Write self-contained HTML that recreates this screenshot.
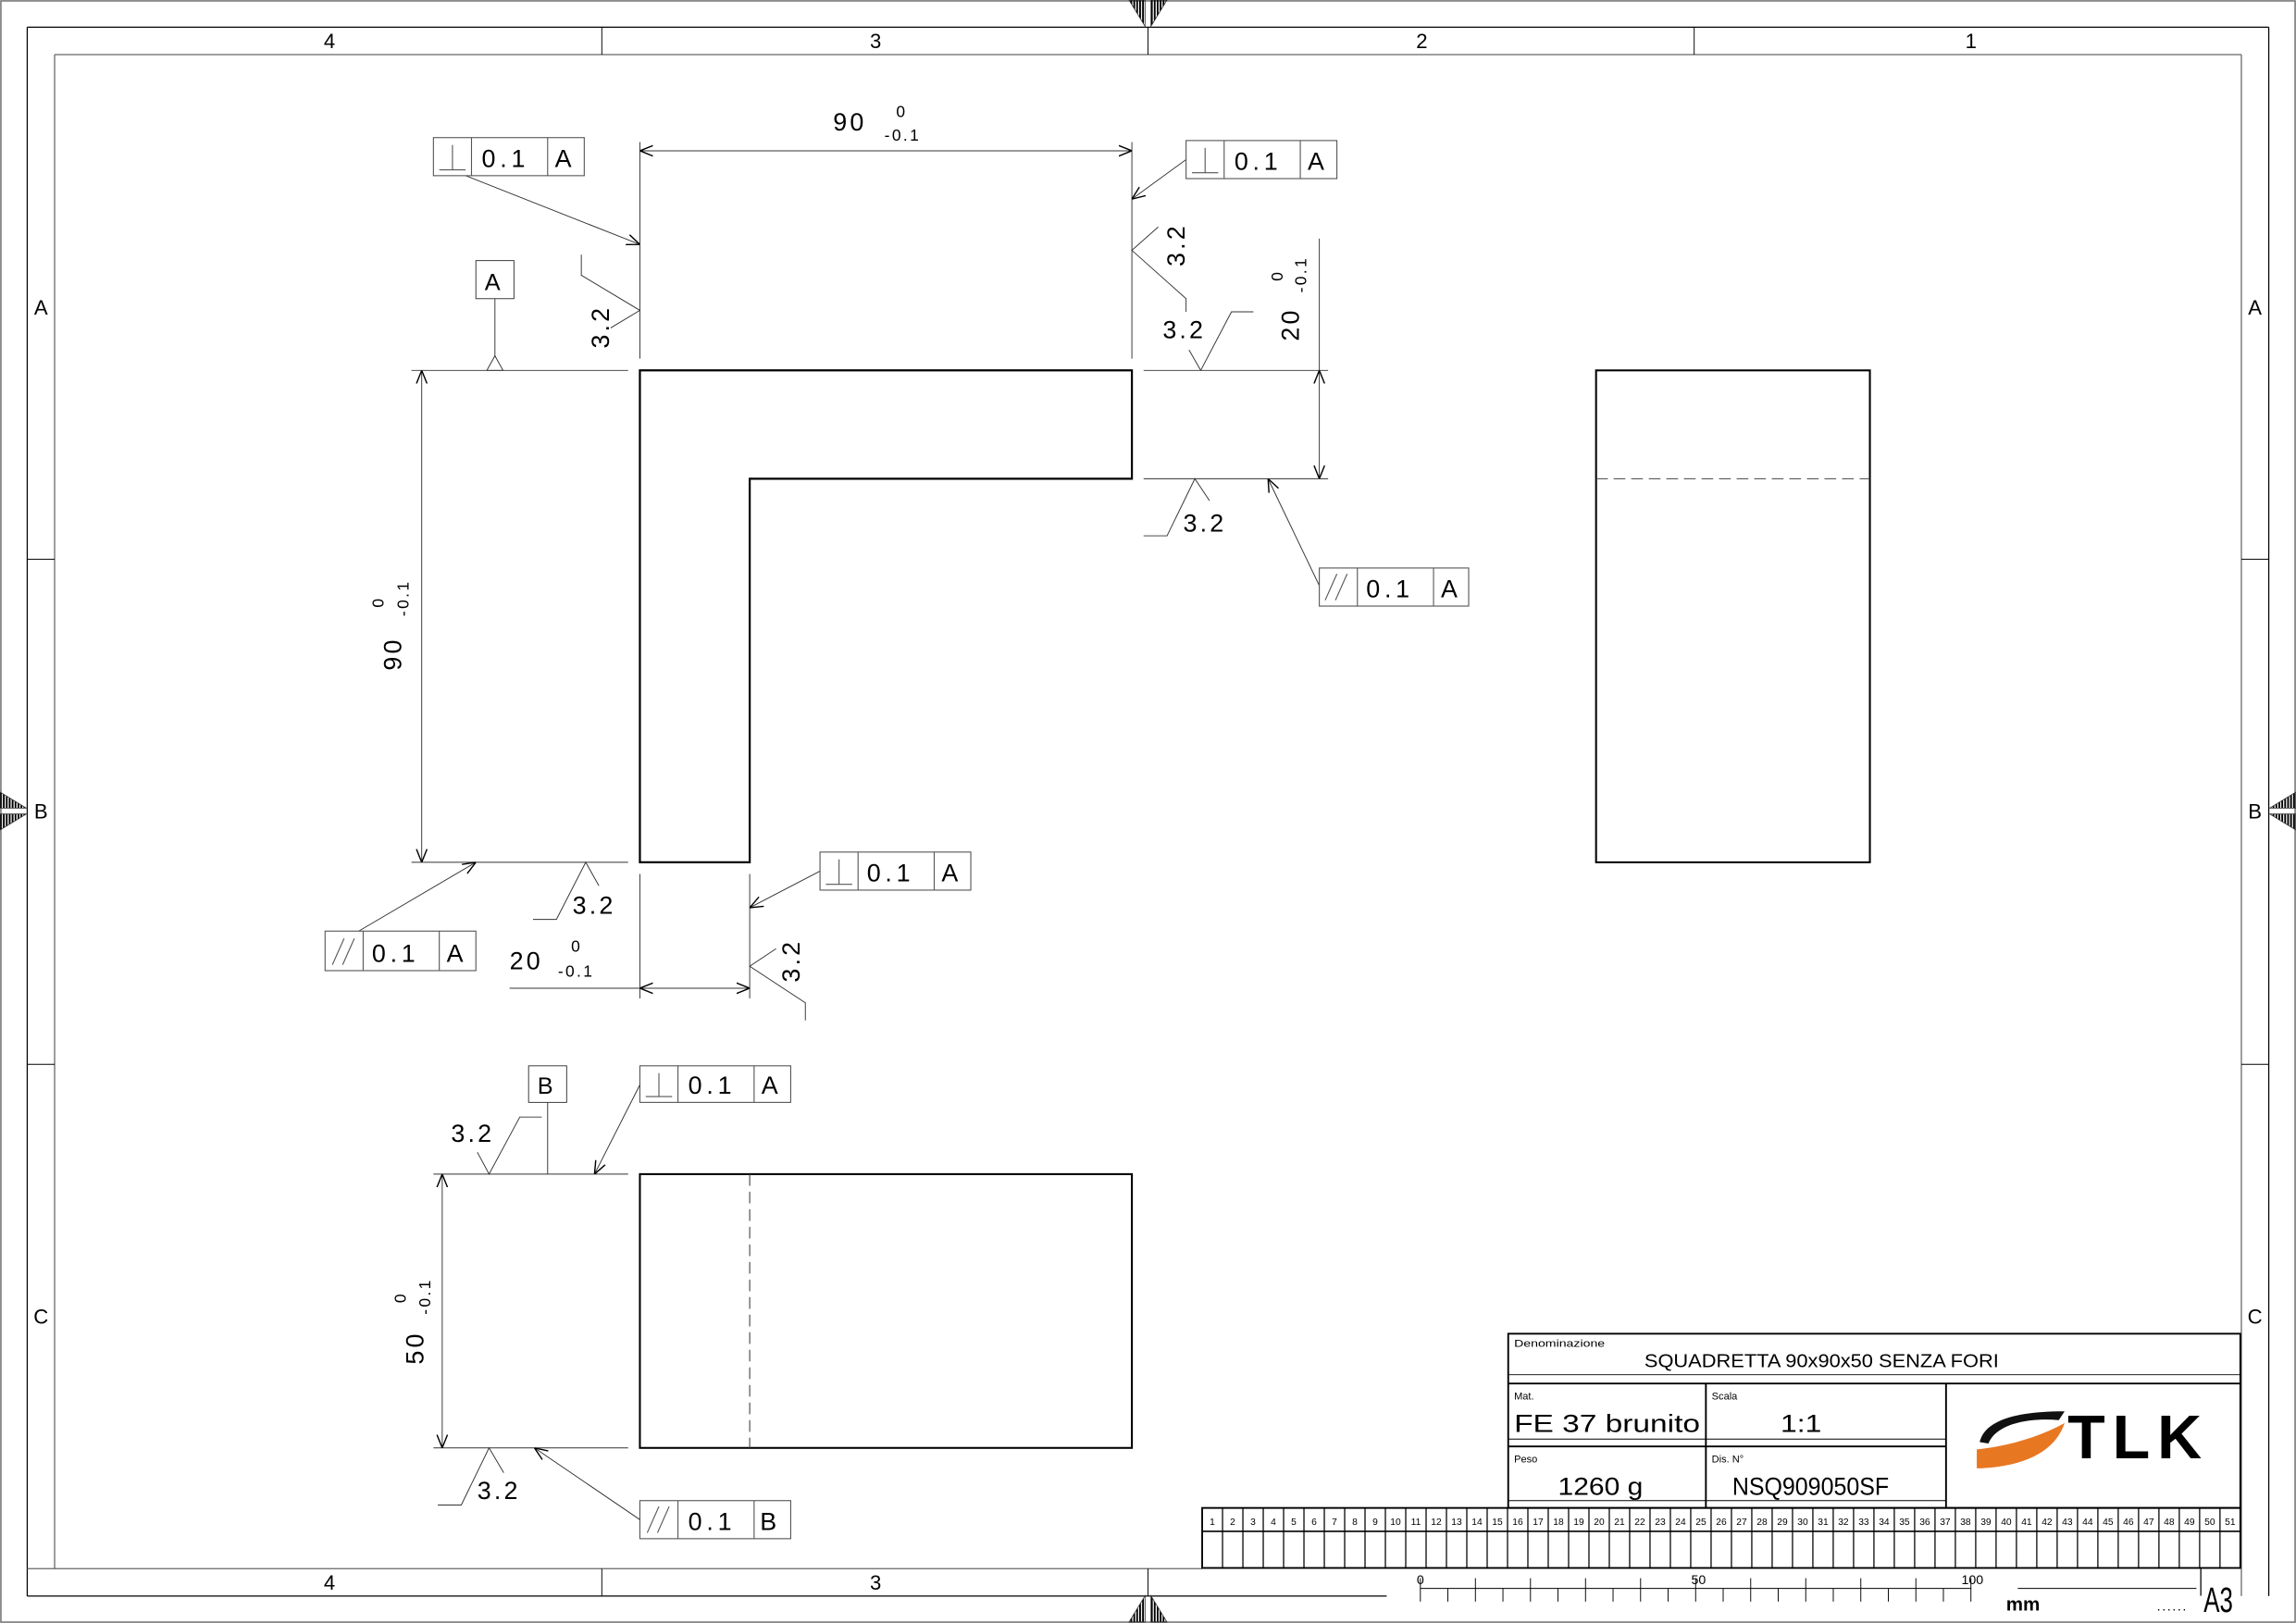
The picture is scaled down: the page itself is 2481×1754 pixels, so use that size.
<!DOCTYPE html>
<html><head><meta charset="utf-8">
<style>
html,body{margin:0;padding:0;background:#fff;}
svg{display:block;}
text{font-family:"Liberation Sans",sans-serif;fill:#000;}
.n{font-family:"Liberation Sans Narrow","Liberation Sans",sans-serif;}
</style></head><body>
<svg width="2481" height="1754" viewBox="0 0 1568 1108.6" preserveAspectRatio="none" xmlns="http://www.w3.org/2000/svg">
<defs>
<marker id="ar" viewBox="0 0 10 10" refX="10" refY="5" markerWidth="9" markerHeight="9" markerUnits="userSpaceOnUse" orient="auto-start-reverse">
<path d="M0,1 L10,5 L0,9" fill="none" stroke="#000" stroke-width="1"/>
</marker>
<pattern id="hat" width="2" height="4" patternUnits="userSpaceOnUse"><rect width="1.2" height="4" fill="#000"/></pattern>
</defs>
<rect x="0" y="0" width="1568" height="1108.6" fill="#fff"/>
<rect x="0.6" y="0.6" width="1566.8" height="1107.4" fill="none" stroke="#777" stroke-width="1"/>
<g stroke="#000" stroke-width="0.8" fill="none">
<line x1="18.6" y1="18.6" x2="1549.4" y2="18.6"/>
<line x1="18.6" y1="18.6" x2="18.6" y2="1090.2"/>
<line x1="1549.4" y1="18.6" x2="1549.4" y2="1090.2"/>
<line x1="18.6" y1="1090.2" x2="947" y2="1090.2"/>
</g>
<g stroke="#666" stroke-width="0.8" fill="none">
<line x1="37.3" y1="37.3" x2="1530.7" y2="37.3"/>
<line x1="37.3" y1="37.3" x2="37.3" y2="1071.5"/>
<line x1="1530.7" y1="37.3" x2="1530.7" y2="1090.2"/>
<line x1="18.6" y1="1071.5" x2="821" y2="1071.5"/>
</g>
<g stroke="#000" stroke-width="0.6">
<line x1="411" y1="18.6" x2="411" y2="37.3"/><line x1="784" y1="18.6" x2="784" y2="37.3"/><line x1="1157" y1="18.6" x2="1157" y2="37.3"/>
<line x1="411" y1="1071.5" x2="411" y2="1090.2"/><line x1="784" y1="1071.5" x2="784" y2="1090.2"/>
<line x1="18.6" y1="382" x2="37.3" y2="382"/><line x1="18.6" y1="727" x2="37.3" y2="727"/>
<line x1="1530.7" y1="382" x2="1549.4" y2="382"/><line x1="1530.7" y1="727" x2="1549.4" y2="727"/>
</g>
<g font-size="14" text-anchor="middle">
<text x="225" y="33">4</text><text x="598" y="33">3</text><text x="971" y="33">2</text><text x="1346" y="33">1</text>
<text x="225" y="1086">4</text><text x="598" y="1086">3</text>
<text x="28" y="215">A</text><text x="28" y="559">B</text><text x="28" y="904">C</text>
<text x="1540" y="215">A</text><text x="1540" y="559">B</text><text x="1540" y="904">C</text>
</g>
<g fill="url(#hat)" stroke="#333" stroke-width="0.5">
<polygon points="771,0 782,0 782,18"/><polygon points="786,0 797,0 786,18"/>
<polygon points="771,1108 782,1108 782,1090"/><polygon points="786,1108 797,1108 786,1090"/>
<polygon points="0,541 0,552 18,552"/><polygon points="0,567 0,556 18,556"/>
<polygon points="1568,541 1568,552 1550,552"/><polygon points="1568,567 1568,556 1550,556"/>
</g>

<polygon points="437,253 773,253 773,327 512,327 512,589 437,589" fill="none" stroke="#000" stroke-width="1.4"/>
<g stroke="#333" stroke-width="0.6" fill="none">
<line x1="437" y1="97" x2="437" y2="245"/><line x1="773" y1="97" x2="773" y2="245"/>
<line x1="437" y1="103" x2="773" y2="103" marker-start="url(#ar)" marker-end="url(#ar)"/>
<line x1="281" y1="253" x2="429" y2="253"/><line x1="281" y1="589" x2="429" y2="589"/>
<line x1="288" y1="253" x2="288" y2="589" marker-start="url(#ar)" marker-end="url(#ar)"/>
<line x1="781" y1="253" x2="907" y2="253"/><line x1="781" y1="327" x2="907" y2="327"/>
<line x1="901" y1="163" x2="901" y2="253"/>
<line x1="901" y1="253" x2="901" y2="327" marker-start="url(#ar)" marker-end="url(#ar)"/>
<line x1="437" y1="597" x2="437" y2="682"/><line x1="512" y1="597" x2="512" y2="682"/>
<line x1="348" y1="675" x2="437" y2="675"/>
<line x1="437" y1="675" x2="512" y2="675" marker-start="url(#ar)" marker-end="url(#ar)"/>
<rect x="325" y="178" width="26" height="26"/>
<line x1="338" y1="204" x2="338" y2="244"/>
<polygon points="332.5,253 338,243 343.5,253"/>
<line x1="318" y1="120" x2="437" y2="167" marker-end="url(#ar)"/>
<line x1="810" y1="109" x2="773" y2="136" marker-end="url(#ar)"/>
<line x1="901" y1="400" x2="866" y2="327" marker-end="url(#ar)"/>
<line x1="245" y1="636" x2="325" y2="589" marker-end="url(#ar)"/>
<line x1="560" y1="595" x2="512" y2="620" marker-end="url(#ar)"/>
<polyline points="397,174 397,188 437,212 417,224"/>
<polyline points="791,155 773,171 810,204 810,213"/>
<polyline points="812,239 820,253 841,213 856,213"/>
<polyline points="826,342 816,327 797,366 781,366"/>
<polyline points="409,605 400,589 380,628 364,628"/>
<polyline points="530,648 512,660 550,685 550,697"/>
</g>
<g font-size="17" letter-spacing="2">
<text x="569" y="89">90</text>
<text x="612" y="80" font-size="11">0</text>
<text x="604" y="96" font-size="11" letter-spacing="1.5">-0.1</text>
<text transform="translate(274,458) rotate(-90)">90</text>
<text transform="translate(262,415) rotate(-90)" font-size="11">0</text>
<text transform="translate(279,421) rotate(-90)" font-size="11" letter-spacing="1.5">-0.1</text>
<text transform="translate(887,233) rotate(-90)">20</text>
<text transform="translate(876,192) rotate(-90)" font-size="11">0</text>
<text transform="translate(892,200) rotate(-90)" font-size="11" letter-spacing="1.5">-0.1</text>
<text x="348" y="662">20</text>
<text x="390" y="650" font-size="11">0</text>
<text x="381" y="667" font-size="11" letter-spacing="1.5">-0.1</text>
<text transform="translate(416,238) rotate(-90)">3.2</text>
<text transform="translate(809,182) rotate(-90)">3.2</text>
<text x="794" y="231">3.2</text>
<text x="808" y="363">3.2</text>
<text x="391" y="624">3.2</text>
<text transform="translate(546,671) rotate(-90)">3.2</text>
<text x="331" y="198" font-size="16" letter-spacing="0">A</text>
</g>

<g stroke="#555" stroke-width="0.7" fill="none">
<rect x="296" y="94" width="103" height="26"/><line x1="322" y1="94" x2="322" y2="120"/><line x1="374" y1="94" x2="374" y2="120"/>
<line x1="309" y1="99" x2="309" y2="116"/><line x1="300" y1="116" x2="318" y2="116"/>
<rect x="810" y="96" width="103" height="26"/><line x1="836" y1="96" x2="836" y2="122"/><line x1="888" y1="96" x2="888" y2="122"/>
<line x1="823" y1="101" x2="823" y2="118"/><line x1="814" y1="118" x2="832" y2="118"/>
<rect x="901" y="388" width="102" height="26"/><line x1="927" y1="388" x2="927" y2="414"/><line x1="979" y1="388" x2="979" y2="414"/>
<line x1="905" y1="410" x2="913" y2="392"/><line x1="912" y1="410" x2="920" y2="392"/>
<rect x="222" y="636" width="103" height="27"/><line x1="248" y1="636" x2="248" y2="663"/><line x1="300" y1="636" x2="300" y2="663"/>
<line x1="227" y1="659" x2="235" y2="641"/><line x1="234" y1="659" x2="242" y2="641"/>
<rect x="560" y="582" width="103" height="26"/><line x1="586" y1="582" x2="586" y2="608"/><line x1="638" y1="582" x2="638" y2="608"/>
<line x1="573" y1="587" x2="573" y2="604"/><line x1="564" y1="604" x2="582" y2="604"/>
<rect x="437" y="728" width="103" height="25"/><line x1="463" y1="728" x2="463" y2="753"/><line x1="515" y1="728" x2="515" y2="753"/>
<line x1="450" y1="733" x2="450" y2="749"/><line x1="441" y1="749" x2="459" y2="749"/>
<rect x="437" y="1025" width="103" height="26"/><line x1="463" y1="1025" x2="463" y2="1051"/><line x1="515" y1="1025" x2="515" y2="1051"/>
<line x1="442" y1="1047" x2="450" y2="1029"/><line x1="449" y1="1047" x2="457" y2="1029"/>
</g>
<g font-size="17" letter-spacing="3">
<text x="329" y="114">0.1</text><text x="379" y="114" letter-spacing="0">A</text>
<text x="843" y="116">0.1</text><text x="893" y="116" letter-spacing="0">A</text>
<text x="933" y="408">0.1</text><text x="984" y="408" letter-spacing="0">A</text>
<text x="254" y="657">0.1</text><text x="305" y="657" letter-spacing="0">A</text>
<text x="592" y="602">0.1</text><text x="643" y="602" letter-spacing="0">A</text>
<text x="470" y="747">0.1</text><text x="520" y="747" letter-spacing="0">A</text>
<text x="470" y="1045">0.1</text><text x="519" y="1045" letter-spacing="0">B</text>
</g>

<rect x="1090" y="253" width="187" height="336" fill="none" stroke="#000" stroke-width="1.3"/>
<line x1="1090" y1="327" x2="1277" y2="327" stroke="#444" stroke-width="0.7" stroke-dasharray="8,4"/>

<rect x="437" y="802" width="336" height="187" fill="none" stroke="#000" stroke-width="1.3"/>
<line x1="512" y1="802" x2="512" y2="989" stroke="#444" stroke-width="0.7" stroke-dasharray="8,4"/>
<g stroke="#333" stroke-width="0.6" fill="none">
<line x1="296" y1="802" x2="429" y2="802"/><line x1="296" y1="989" x2="429" y2="989"/>
<line x1="302" y1="802" x2="302" y2="989" marker-start="url(#ar)" marker-end="url(#ar)"/>
<rect x="361" y="728" width="26" height="25"/>
<line x1="374" y1="753" x2="374" y2="802"/>
<polyline points="326,787 334,802 355,763 370,763"/>
<polyline points="344,1006 334,989 315,1028 299,1028"/>
<line x1="437" y1="741" x2="406" y2="802" marker-end="url(#ar)"/>
<line x1="437" y1="1038" x2="365" y2="989" marker-end="url(#ar)"/>
</g>
<g font-size="17" letter-spacing="2">
<text x="367" y="747" font-size="16" letter-spacing="0">B</text>
<text x="308" y="780">3.2</text>
<text x="326" y="1024">3.2</text>
<text transform="translate(289,932) rotate(-90)">50</text>
<text transform="translate(277,890) rotate(-90)" font-size="11">0</text>
<text transform="translate(294,898) rotate(-90)" font-size="11" letter-spacing="1.5">-0.1</text>
</g>

<g stroke="#000" fill="none">
<rect x="1030" y="911" width="500" height="119" stroke-width="1.2"/>
<line x1="1030" y1="939" x2="1530" y2="939" stroke-width="0.6"/>
<line x1="1030" y1="945" x2="1530" y2="945" stroke-width="1.2"/>
<line x1="1165" y1="945" x2="1165" y2="1030" stroke-width="1.2"/>
<line x1="1329" y1="945" x2="1329" y2="1030" stroke-width="1.2"/>
<line x1="1030" y1="983" x2="1329" y2="983" stroke-width="0.6"/>
<line x1="1030" y1="988" x2="1329" y2="988" stroke-width="1.2"/>
<line x1="1030" y1="1025" x2="1329" y2="1025" stroke-width="0.6"/>
<rect x="821" y="1030" width="709" height="41" stroke-width="1.2"/>
<line x1="821" y1="1046" x2="1530" y2="1046" stroke-width="1"/>
<line x1="1503" y1="1071" x2="1503" y2="1090" stroke-width="0.8"/>
<line x1="1378" y1="1085" x2="1500" y2="1085" stroke-width="0.6"/>
<line x1="970" y1="1085" x2="1346" y2="1085" stroke-width="0.6"/>
</g>
<g id="cols" stroke="#000" stroke-width="0.8"></g>
<g class="n" font-size="7">
<text x="1034" y="920" textLength="62" lengthAdjust="spacingAndGlyphs">Denominazione</text>
<text x="1034" y="956">Mat.</text>
<text x="1169" y="956">Scala</text>
<text x="1034" y="999">Peso</text>
<text x="1169" y="999">Dis. N°</text>
</g>
<g class="n" font-size="13">
<text x="1123" y="934" textLength="242" lengthAdjust="spacingAndGlyphs">SQUADRETTA 90x90x50 SENZA FORI</text>
</g>
<g class="n" font-size="17">
<text x="1034" y="978" textLength="127" lengthAdjust="spacingAndGlyphs">FE 37 brunito</text>
<text x="1216" y="978" textLength="28" lengthAdjust="spacingAndGlyphs">1:1</text>
<text x="1064" y="1021" textLength="58" lengthAdjust="spacingAndGlyphs">1260 g</text>
<text x="1183" y="1021" textLength="107" lengthAdjust="spacingAndGlyphs">NSQ909050SF</text>
</g>
<path d="M1352,985 C1355,972 1372,964 1410,964 L1406,970 C1380,968 1362,975 1358,986 Z" fill="#111"/>
<path d="M1350,990 C1370,988 1392,982 1410,972 C1404,990 1385,1002 1350,1003 Z" fill="#e87722"/>
<text x="1412" y="996" font-size="42" font-weight="bold" letter-spacing="5" fill="#222">TLK</text>
<text x="1525" y="1101" text-anchor="end" class="n" font-size="24" textLength="20" lengthAdjust="spacingAndGlyphs">A3</text>
<text x="1370" y="1100" class="n" font-size="13" font-weight="bold">mm</text>
<text x="1473" y="1100" font-size="9" letter-spacing="1">......</text>
<g class="n" font-size="9" text-anchor="middle">
<text x="970" y="1082">0</text><text x="1160" y="1082">50</text><text x="1347" y="1082">100</text>
</g>
<g stroke="#000" stroke-width="0.6" id="ticks"></g>
<g id="colnums" class="n" font-size="6.5" text-anchor="middle"></g>
<script>
(function(){
var ns="http://www.w3.org/2000/svg";
var cols=document.getElementById("cols"),nums=document.getElementById("colnums"),tk=document.getElementById("ticks");
var x0=821,w=(1530-821)/51;
for(var i=1;i<51;i++){var l=document.createElementNS(ns,"line");var x=x0+i*w;
l.setAttribute("x1",x);l.setAttribute("x2",x);l.setAttribute("y1",1030);l.setAttribute("y2",1071);cols.appendChild(l);}
for(var i=0;i<51;i++){var t=document.createElementNS(ns,"text");t.setAttribute("x",x0+i*w+w/2);t.setAttribute("y",1041.5);t.textContent=(i+1);nums.appendChild(t);}
for(var i=0;i<=20;i++){var x=970+i*18.8;var l=document.createElementNS(ns,"line");
l.setAttribute("x1",x);l.setAttribute("x2",x);l.setAttribute("y1",(i%2==0)?1078:1085);l.setAttribute("y2",1094);tk.appendChild(l);}
})();
</script>
</svg>
</body></html>
